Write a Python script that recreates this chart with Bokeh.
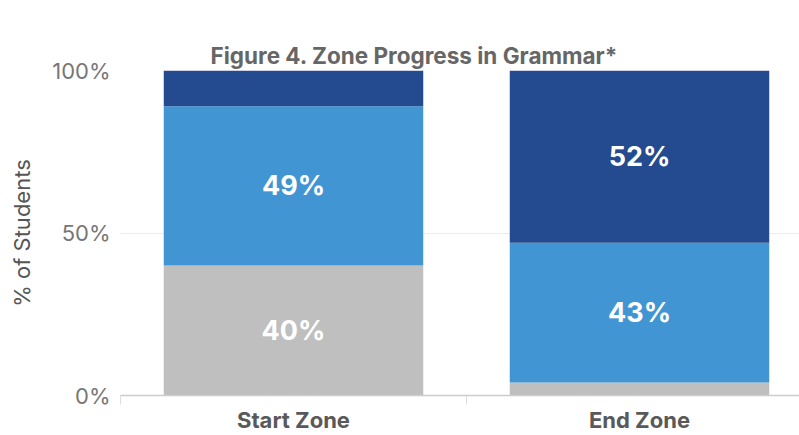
import numpy as np
from bokeh.plotting import figure
from bokeh.models import ColumnDataSource, Range1d, FixedTicker, Title
from bokeh.core.properties import value
from bokeh.embed import file_html
from bokeh.resources import INLINE

# ---- data ----
categories = ["Start Zone", "End Zone"]
below = [40, 4]
within = [49, 43]
above = [11, 53]
below_labels = ["40%", ""]
within_labels = ["49%", "43%"]
above_labels = ["", "52%"]
y_ticks = [0, 50, 100]
y_tick_labels = ["0%", "50%", "100%"]
colors = ["#BFBFBF", "#4195D3", "#244B8F"]
title_text = "Figure 4. Zone Progress in Grammar*"

# ---- layout ----
FONT = "Inter"
W, H = 799, 435
LEFT, TOP, BOTTOM = 120, 70, 35
band_px = 346
frame_w = W - LEFT
x_end = frame_w / band_px

xs = np.arange(len(categories)) + 0.5
src = ColumnDataSource(dict(x=xs, below=below, within=within, above=above))

# the figure's own title acts as an invisible spacer next to the frame
p = figure(width=W, height=H, output_backend="svg", toolbar_location=None,
           x_range=Range1d(0, x_end), y_range=Range1d(0, 100),
           min_border_left=LEFT, min_border_top=TOP, min_border_bottom=BOTTOM,
           min_border_right=0, title=".")

p.vbar_stack(["below", "within", "above"], x="x", width=0.75, source=src,
             fill_color=colors, line_color=None)

# labels
lx, ly, lt = [], [], []
bottom = np.zeros(len(categories))
for vals, labs in [(below, below_labels), (within, within_labels), (above, above_labels)]:
    v = np.array(vals, dtype=float)
    mids = bottom + v / 2
    for i, t in enumerate(labs):
        if t:
            lx.append(xs[i]); ly.append(mids[i]); lt.append(t)
    bottom = bottom + v
p.text(x=lx, y=ly, text=lt, text_color="white", text_font=value(FONT),
       text_font_style="bold", text_font_size="27px",
       text_align="center", text_baseline="middle")

# spacer
p.title.text_font = FONT
p.title.text_font_size = "10px"
p.title.text_alpha = 0.0
p.title.standoff = 22
# main title, added further out
main_title = Title(text=title_text, text_font=FONT, text_font_size="22.5px",
                   text_font_style="bold", text_color="#666666", align="left",
                   vertical_align="top", offset=90, standoff=0)
p.add_layout(main_title, "above")

# axes
p.outline_line_color = None
p.xgrid.grid_line_color = None
p.ygrid.grid_line_color = "#ececec"
p.ygrid.ticker = FixedTicker(ticks=y_ticks)

p.yaxis.ticker = FixedTicker(ticks=y_ticks)
p.yaxis.major_label_overrides = {t: l for t, l in zip(y_ticks, y_tick_labels)}
p.yaxis.axis_line_color = None
p.yaxis.major_tick_line_color = None
p.yaxis.minor_tick_line_color = None
p.yaxis.major_tick_out = 0
p.yaxis.major_label_text_font = FONT
p.yaxis.major_label_text_font_size = "22px"
p.yaxis.major_label_text_color = "#777777"
p.yaxis.major_label_standoff = 10
p.yaxis.axis_label = "% of Students"
p.yaxis.axis_label_text_font = FONT
p.yaxis.axis_label_text_font_size = "22px"
p.yaxis.axis_label_text_font_style = "normal"
p.yaxis.axis_label_text_color = "#555555"
p.yaxis.axis_label_standoff = 14

p.xaxis.ticker = FixedTicker(ticks=list(xs), minor_ticks=list(np.arange(len(categories) + 1)))
p.xaxis.major_label_overrides = {float(x): c for x, c in zip(xs, categories)}
p.xaxis.axis_line_color = "#cccccc"
p.xaxis.axis_line_width = 1.5
p.xaxis.major_tick_line_color = None
p.xaxis.major_tick_out = 0
p.xaxis.minor_tick_line_color = "#dddddd"
p.xaxis.minor_tick_in = 0
p.xaxis.minor_tick_out = 9
p.xaxis.major_label_text_font = FONT
p.xaxis.major_label_text_font_size = "22px"
p.xaxis.major_label_text_font_style = "bold"
p.xaxis.major_label_text_color = "#595959"
p.xaxis.major_label_standoff = 2

open("out.html", "w").write(file_html(p, INLINE))
